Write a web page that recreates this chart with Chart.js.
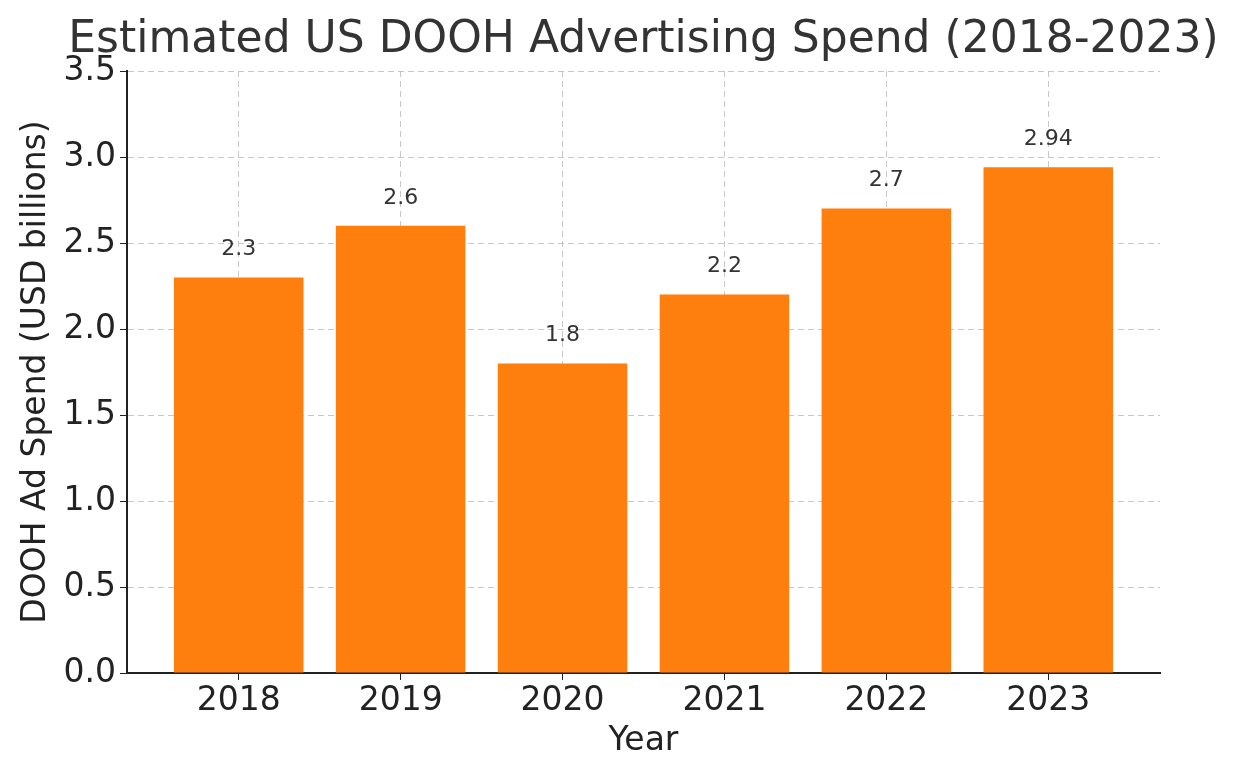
<!DOCTYPE html>
<html>
<head>
<meta charset="utf-8">
<script src="https://cdn.jsdelivr.net/npm/chart.js@4/dist/chart.umd.min.js"></script>
<style>
  html, body { margin: 0; padding: 0; background: #fff; }
  #wrap { width: 1245px; height: 780px; }
</style>
</head>
<body>
<div id="wrap"><canvas id="chart" width="1245" height="780"></canvas></div>
<script>
// chart data
const years = ['2018', '2019', '2020', '2021', '2022', '2023'];
const spend = [2.3, 2.6, 1.8, 2.2, 2.7, 2.94];
const yTicks = [0, 0.5, 1.0, 1.5, 2.0, 2.5, 3.0, 3.5];
const chartTitle = 'Estimated US DOOH Advertising Spend (2018-2023)';

const FONT = "'DejaVu Sans', sans-serif";

// value over each bar + title centred on the plot area (like matplotlib)
const valueLabels = {
    id: 'valueLabels',
    afterDatasetsDraw(chart) {
        const ctx = chart.ctx;
        const meta = chart.getDatasetMeta(0);
        const area = chart.chartArea;
        ctx.save();
        ctx.font = '22px ' + FONT;
        ctx.fillStyle = '#333';
        ctx.textAlign = 'center';
        ctx.textBaseline = 'middle';
        meta.data.forEach((bar, i) => {
            ctx.fillText(String(spend[i]), bar.x, bar.y - 28);
        });
        ctx.font = '44px ' + FONT;
        ctx.fillText(chartTitle, (area.left + area.right) / 2, 41);
        ctx.restore();
    }
};

new Chart(document.querySelector('#chart').getContext('2d'), {
    type: 'bar',
    data: {
        datasets: [{
            label: 'DOOH Ad Spend',
            data: spend.map((v, i) => ({ x: i, y: v })),
            backgroundColor: '#ff7f0e',
            barPercentage: 0.8,
            categoryPercentage: 1.0
        }]
    },
    options: {
        responsive: false,
        animation: false,
        layout: { padding: { left: 0, right: 85, top: 71, bottom: 0 } },
        plugins: {
            legend: { display: false },
            tooltip: { enabled: false },
            title: { display: false }
        },
        scales: {
            x: {
                type: 'linear',
                offset: false,
                min: -0.69,
                max: 5.69,
                afterBuildTicks(scale) {
                    scale.ticks = years.map((y, i) => ({ value: i }));
                },
                afterFit(scale) {
                    scale.height = 107;
                },
                ticks: {
                    color: '#222',
                    font: { family: FONT, size: 33 },
                    padding: 2,
                    maxRotation: 0,
                    callback: (v) => years[v]
                },
                grid: {
                    offset: false,
                    color: 'rgba(176,176,176,0.7)',
                    tickColor: '#222',
                    tickLength: 7,
                    lineWidth: 1
                },
                border: { color: '#222', width: 2, dash: [6, 4] },
                title: {
                    display: true,
                    text: 'Year',
                    color: '#222',
                    font: { family: FONT, size: 33 },
                    padding: { top: 0, bottom: 19 }
                }
            },
            y: {
                min: 0,
                max: 3.5,
                afterBuildTicks(scale) {
                    scale.ticks = yTicks.map(v => ({ value: v }));
                },
                afterFit(scale) {
                    scale.width = 127;
                },
                ticks: {
                    color: '#222',
                    font: { family: FONT, size: 33 },
                    padding: 4,
                    callback: (v) => Number(v).toFixed(1)
                },
                grid: {
                    color: 'rgba(176,176,176,0.7)',
                    tickColor: '#222',
                    tickLength: 7,
                    lineWidth: 1
                },
                border: { color: '#222', width: 2, dash: [6, 4] },
                title: {
                    display: true,
                    text: 'DOOH Ad Spend (USD billions)',
                    color: '#222',
                    font: { family: FONT, size: 33 },
                    padding: { top: 17, bottom: 0 }
                }
            }
        }
    },
    plugins: [valueLabels]
});
</script>
</body>
</html>
